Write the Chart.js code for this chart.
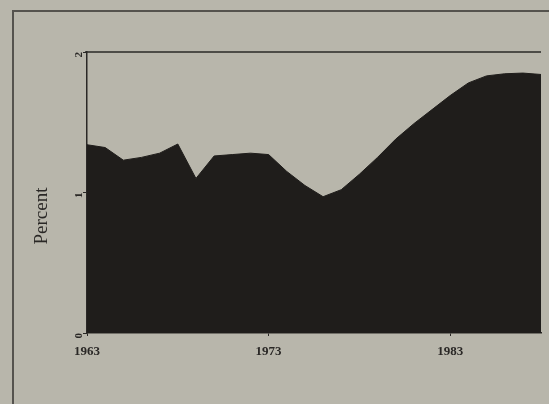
<!DOCTYPE html>
<html>
<head>
<meta charset="utf-8">
<script src="https://cdn.jsdelivr.net/npm/chart.js@4"></script>
<style>
  html, body { margin: 0; padding: 0; background: #b8b6ab; }
  #wrap { width: 549px; height: 404px; }
</style>
</head>
<body>
<div id="wrap"><canvas id="c" width="549" height="404"></canvas></div>
<script>
const years = [1963,1964,1965,1966,1967,1968,1969,1970,1971,1972,1973,1974,1975,1976,1977,1978,1979,1980,1981,1982,1983,1984,1985,1986,1987,1988];
const percent = [1.34,1.32,1.23,1.25,1.28,1.345,1.10,1.26,1.27,1.28,1.27,1.15,1.05,0.97,1.02,1.13,1.25,1.38,1.49,1.59,1.69,1.78,1.83,1.845,1.85,1.84];
const xTickLabels = [1963, 1973, 1983];
const yTickLabels = [0, 1, 2];
const yTitle = 'Percent';

const pageDeco = {
  id: 'pageDeco',
  beforeDraw(chart) {
    const ctx = chart.ctx;
    ctx.save();
    ctx.fillStyle = '#b8b6ab';
    ctx.fillRect(0, 0, chart.width, chart.height);
    ctx.strokeStyle = '#55534e';
    ctx.lineWidth = 2;
    ctx.beginPath();
    ctx.moveTo(13, 404);
    ctx.lineTo(13, 11);
    ctx.lineTo(549, 11);
    ctx.stroke();
    ctx.restore();
  },
  afterDraw(chart) {
    const ctx = chart.ctx, a = chart.chartArea;
    ctx.save();
    ctx.strokeStyle = '#2a2826';
    ctx.lineWidth = 1.5;
    ctx.beginPath();
    ctx.moveTo(a.left - 2, a.top);
    ctx.lineTo(a.right, a.top);
    ctx.stroke();
    // y-axis title
    ctx.fillStyle = '#2a2826';
    ctx.font = '19px "Liberation Serif"';
    ctx.textAlign = 'center';
    ctx.textBaseline = 'middle';
    ctx.translate(42, 216);
    ctx.rotate(-Math.PI / 2);
    ctx.fillText(yTitle, 0, 0);
    ctx.restore();
  }
};

new Chart(document.getElementById('c'), {
  type: 'line',
  data: {
    datasets: [{
      data: years.map((y, i) => ({ x: y, y: percent[i] })),
      fill: 'origin',
      backgroundColor: '#1f1d1b',
      borderColor: '#1f1d1b',
      borderWidth: 1,
      pointRadius: 0,
      tension: 0
    }]
  },
  options: {
    responsive: false,
    animation: false,
    layout: { padding: { left: 30, top: 52, right: 8, bottom: 0 } },
    plugins: { legend: { display: false }, tooltip: { enabled: false } },
    scales: {
      x: {
        type: 'linear',
        min: 1963,
        max: 1988,
        afterBuildTicks(scale) { scale.ticks = xTickLabels.map(v => ({ value: v })); },
        afterFit(scale) { scale.height = 71; },
        ticks: {
          autoSkip: false,
          maxRotation: 0,
          padding: 8,
          color: '#2a2826',
          font: { family: 'Liberation Serif', size: 13, weight: 'bold' },
          callback: v => String(v)
        },
        grid: { drawOnChartArea: false, drawTicks: true, tickLength: 3, color: '#2a2826' },
        border: { display: true, color: '#2a2826', width: 1.5 }
      },
      y: {
        min: 0,
        max: 2,
        afterBuildTicks(scale) { scale.ticks = yTickLabels.map(v => ({ value: v })); },
        afterFit(scale) { scale.width = 57; },
        ticks: {
          padding: 4,
          minRotation: 90,
          maxRotation: 90,
          color: '#2a2826',
          font: { family: 'Liberation Serif', size: 11, weight: 'bold' }
        },
        grid: { drawOnChartArea: false, drawTicks: true, tickLength: 4, color: '#2a2826' },
        border: { display: true, color: '#2a2826', width: 1.5 }
      }
    }
  },
  plugins: [pageDeco]
});
</script>
</body>
</html>
